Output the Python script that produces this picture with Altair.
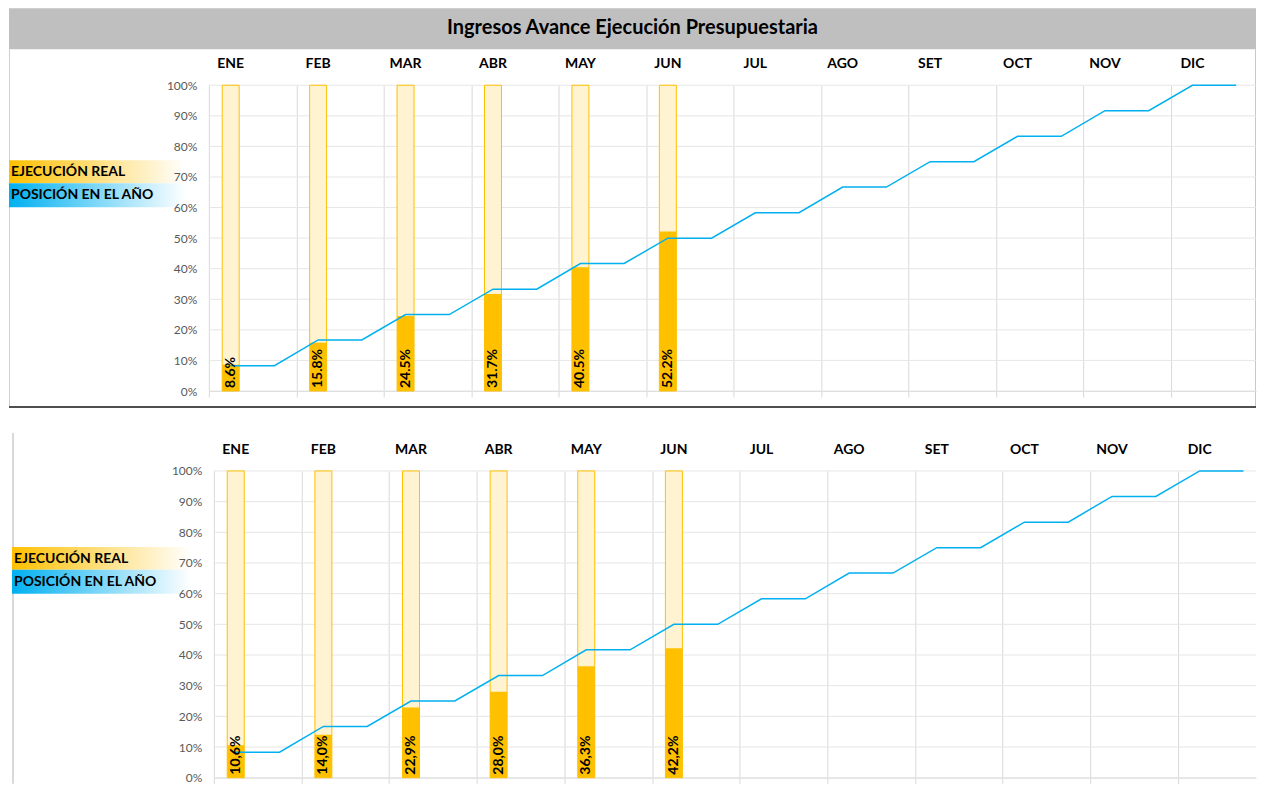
import altair as alt
import pandas as pd

months = ["ENE", "FEB", "MAR", "ABR", "MAY", "JUN", "JUL", "AGO", "SET", "OCT", "NOV", "DIC"]
posicion = [8.3, 16.7, 25.0, 33.3, 41.7, 50.0, 58.3, 66.7, 75.0, 83.3, 91.7, 100.0]
real_top = [8.6, 15.8, 24.5, 31.7, 40.5, 52.2]
labels_top = ["8.6%", "15.8%", "24.5%", "31.7%", "40.5%", "52.2%"]
real_bottom = [10.6, 14.0, 22.9, 28.0, 36.3, 42.2]
labels_bottom = ["10,6%", "14,0%", "22,9%", "28,0%", "36,3%", "42,2%"]
y_ticks = [0.0, 0.1, 0.2, 0.3, 0.4, 0.5, 0.6, 0.7, 0.8, 0.9, 1.0]
title_text = "Ingresos Avance Ejecución Presupuestaria"
legend_labels = ["EJECUCIÓN REAL", "POSICIÓN EN EL AÑO"]

FONT = "Lato"
ORANGE = "#FFC000"
LIGHT = "#FFF3D1"
BLUE = "#00B0F0"
BAR_POS = 0.25
FLAT_END = 0.75


def one(**kw):
    return alt.Chart(pd.DataFrame({k: [v] for k, v in kw.items()} if kw else {"d": [0]}))


def grad(color):
    return alt.LinearGradient(
        gradient="linear",
        stops=[alt.GradientStop(offset=0, color=color),
               alt.GradientStop(offset=1, color="#FFFFFF")],
        x1=0, x2=1, y1=0, y2=0)


def panel(real, labels, width, xscale, yoff, leg_x, leg_x2, leg_y):
    n = len(real)
    bars = pd.DataFrame({
        "pos": [i + BAR_POS for i in range(n)],
        "real": [v / 100 for v in real],
        "full": [1.0] * n,
        "zero": [0.0] * n,
        "label": labels,
    })
    rows = []
    for i, v in enumerate(posicion):
        rows.append({"pos": i + BAR_POS, "v": v / 100, "o": 2 * i})
        rows.append({"pos": i + FLAT_END, "v": v / 100, "o": 2 * i + 1})
    line = pd.DataFrame(rows)
    mdf = pd.DataFrame({"pos": [i + BAR_POS for i in range(12)], "m": months})
    gdf = pd.DataFrame({"g": y_ticks})

    x_axis = alt.Axis(values=list(range(12)), labels=False, title=None, grid=True,
                      gridColor="#D9D9D9", ticks=True, tickSize=6, tickColor="#D9D9D9",
                      domain=True, domainColor="#D9D9D9")
    y_axis = alt.Axis(values=y_ticks, format=".0%", title=None,
                      grid=False, ticks=False, domain=False, zindex=1,
                      labelColor="#595959", labelFont=FONT, labelFontSize=12,
                      labelPadding=12, offset=yoff)
    yscale = alt.Scale(domain=[0, 1], nice=False, padding=0)

    def X(f):
        return alt.X(f, type="quantitative", scale=xscale, axis=x_axis)

    def Y(f):
        return alt.Y(f, type="quantitative", scale=yscale, axis=y_axis)

    grid = alt.Chart(gdf).mark_rule(color="#E6E6E6", strokeWidth=1).encode(
        y=Y("g"), x=alt.value(-yoff), x2=alt.value(width))
    base = alt.Chart(bars)
    bg = base.mark_bar(size=17, fill=LIGHT, stroke=ORANGE, strokeWidth=1).encode(x=X("pos"), y=Y("full"))
    fg = base.mark_bar(size=17, fill=ORANGE).encode(x=X("pos"), y=Y("real"))
    ln = alt.Chart(line).mark_line(color=BLUE, strokeWidth=1.5).encode(
        x=X("pos"), y=Y("v"), order="o:Q")
    txt = base.mark_text(angle=270, align="left", baseline="middle", font=FONT,
                         fontWeight="bold", fontSize=14, color="black", dx=3).encode(
        x=X("pos"), y=Y("zero"), text="label:N")
    mtxt = alt.Chart(mdf).mark_text(font=FONT, fontWeight="bold", fontSize=14, color="black",
                                    baseline="middle").encode(
        x=X("pos"), y=alt.value(-21), text="m:N")

    leg1 = one().mark_rect(fill=grad(ORANGE)).encode(
        x=alt.value(leg_x), x2=alt.value(leg_x2), y=alt.value(leg_y), y2=alt.value(leg_y + 23))
    leg2 = one().mark_rect(fill=grad(BLUE)).encode(
        x=alt.value(leg_x), x2=alt.value(leg_x2), y=alt.value(leg_y + 23), y2=alt.value(leg_y + 47))
    lt1 = one(t=legend_labels[0]).mark_text(font=FONT, fontWeight="bold", fontSize=14, color="black",
                                            align="left", baseline="middle").encode(
        x=alt.value(leg_x + 2), y=alt.value(leg_y + 12), text="t:N")
    lt2 = one(t=legend_labels[1]).mark_text(font=FONT, fontWeight="bold", fontSize=14, color="black",
                                            align="left", baseline="middle").encode(
        x=alt.value(leg_x + 2), y=alt.value(leg_y + 35), text="t:N")
    return [grid, bg, fg, ln, txt, mtxt, leg1, leg2, lt1, lt2]


W = 1048

# top panel
top_layers = panel(real_top, labels_top, W,
                   alt.Scale(domain=[0, W / 87.5], nice=False, zero=False, padding=0),
                   0, -200, -23, 75)
title_bar = one().mark_rect(fill="#BFBFBF").encode(
    x=alt.value(-200), x2=alt.value(W), y=alt.value(-77), y2=alt.value(-36))
title_t = one(t=title_text).mark_text(font=FONT, fontWeight="bold", fontSize=20, color="black",
                                      align="center", baseline="middle").encode(
    x=alt.value(424), y=alt.value(-57), text="t:N")
b_left = one().mark_rule(color="#D0D0D0", strokeWidth=1).encode(
    x=alt.value(-199.5), y=alt.value(-36), y2=alt.value(322))
b_right = one().mark_rule(color="#C8C8C8", strokeWidth=1).encode(
    x=alt.value(W - 0.5), y=alt.value(-36), y2=alt.value(322))
b_bottom = one().mark_rule(color="#505050", strokeWidth=2).encode(
    x=alt.value(-200), x2=alt.value(W), y=alt.value(322))
top = alt.layer(title_bar, title_t, b_left, b_right, b_bottom, *top_layers).properties(
    width=W, height=306)

# bottom panel
bot_layers = panel(real_bottom, labels_bottom, W,
                   alt.Scale(domain=[0, (W - 5) / 87.7], range=[5, W], nice=False, zero=False,
                             padding=0),
                   -5, -197, -18, 76)
b2_left = one().mark_rule(color="#D9D9D9", strokeWidth=2).encode(
    x=alt.value(-196), y=alt.value(-38), y2=alt.value(313))
bottom = alt.layer(b2_left, *bot_layers).properties(width=W, height=307)

chart = alt.vconcat(top, bottom, spacing=24).properties(
    padding=0, background="white").configure_view(strokeWidth=0)

chart.save("out.html", embed_options={"renderer": "svg", "actions": False})
